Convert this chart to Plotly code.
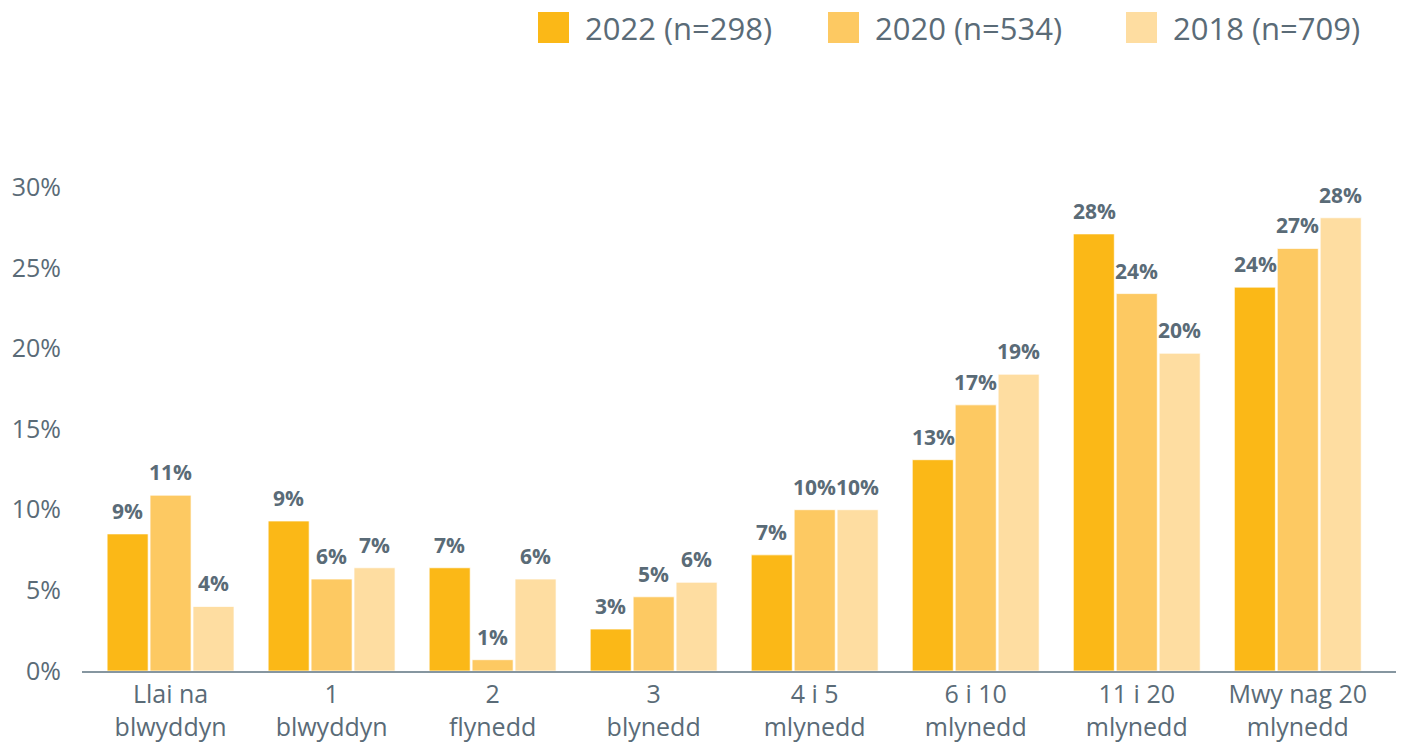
import plotly.graph_objects as go

categories = ["Llai na<br>blwyddyn", "1<br>blwyddyn", "2<br>flynedd", "3<br>blynedd",
              "4 i 5<br>mlynedd", "6 i 10<br>mlynedd", "11 i 20<br>mlynedd", "Mwy nag 20<br>mlynedd"]
series_names = ["2022 (n=298)", "2020 (n=534)", "2018 (n=709)"]
values_2022 = [8.5, 9.3, 6.4, 2.6, 7.2, 13.1, 27.1, 23.8]
values_2020 = [10.9, 5.7, 0.7, 4.6, 10.0, 16.5, 23.4, 26.2]
values_2018 = [4.0, 6.4, 5.7, 5.5, 10.0, 18.4, 19.7, 28.1]
labels_2022 = ["9%", "9%", "7%", "3%", "7%", "13%", "28%", "24%"]
labels_2020 = ["11%", "6%", "1%", "5%", "10%", "17%", "24%", "27%"]
labels_2018 = ["4%", "7%", "6%", "6%", "10%", "19%", "20%", "28%"]
y_tickvals = [0, 5, 10, 15, 20, 25, 30]
y_ticktext = ["0%", "5%", "10%", "15%", "20%", "25%", "30%"]

colors = ["#FBB817", "#FDC962", "#FEDDA1"]
text_color = "#5A6B77"
font_family = "Open Sans, Noto Sans, sans-serif"

W, H = 1401, 747
ML, MR, MT, MB = 82, 5, 171, 76
PW, PH = W - ML - MR, H - MT - MB

def px_x(px):
    return (px - ML) / PW

def px_y(py):
    return (H - MB - py) / PH

all_values = [values_2022, values_2020, values_2018]
all_labels = [labels_2022, labels_2020, labels_2018]

fig = go.Figure()
for name, vals, col in zip(series_names, all_values, colors):
    fig.add_trace(go.Bar(
        x=categories, y=vals, name=name, showlegend=False,
        marker=dict(color=col, line=dict(color="rgba(255,255,255,0.7)", width=1)),
        hoverinfo="x+y",
    ))

annotations = []
slot = 42.7
for si, (vals, labs) in enumerate(zip(all_values, all_labels)):
    for cat, v, lab in zip(categories, vals, labs):
        annotations.append(dict(
            x=cat, y=v, xref="x", yref="y", text=lab, showarrow=False,
            xshift=(si - 1) * slot, yshift=7, yanchor="bottom", xanchor="center",
            font=dict(family=font_family, size=21, color=text_color, weight="bold"),
        ))

# manual legend (large squares)
legend_x = [538, 828, 1126]
shapes = []
for lx, name, col in zip(legend_x, series_names, colors):
    shapes.append(dict(type="rect", xref="paper", yref="paper",
                       x0=px_x(lx), x1=px_x(lx + 31), y0=px_y(43), y1=px_y(12),
                       fillcolor=col, line=dict(width=0)))
    annotations.append(dict(xref="paper", yref="paper", x=px_x(lx + 45), y=px_y(28),
                            xanchor="left", yanchor="middle", text=name, showarrow=False,
                            font=dict(family=font_family, size=31, color=text_color)))

fig.update_layout(
    width=W, height=H,
    margin=dict(l=ML, r=MR, t=MT, b=MB, pad=0, autoexpand=False),
    paper_bgcolor="white", plot_bgcolor="white",
    barmode="group", bargap=0.2, bargroupgap=0.045,
    font=dict(family=font_family, color=text_color, size=25),
    annotations=annotations, shapes=shapes,
    xaxis=dict(range=[-0.55, 7.61], showgrid=False, showline=True, automargin=False,
               linecolor="#8696A0", linewidth=2, ticks="", zeroline=False,
               tickfont=dict(size=25, color=text_color, family=font_family)),
    yaxis=dict(range=[0, 31], tickvals=y_tickvals, ticktext=y_ticktext, automargin=False,
               showgrid=False, zeroline=False, showline=False, ticks="",
               ticklabelstandoff=20,
               tickfont=dict(size=25, color=text_color, family=font_family)),
)

fig.write_html("out.html", config={"displayModeBar": False},
               post_script="document.body.style.margin='0px';document.body.style.overflow='hidden';")
